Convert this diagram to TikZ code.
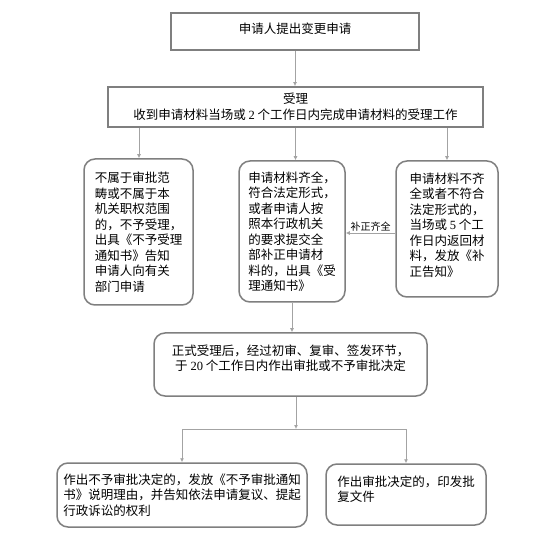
\documentclass[tikz,border=0pt]{standalone}
\usepackage{fontspec}
\setmainfont{Liberation Serif}
\newfontfamily\cjk{Noto Sans CJK SC}
\newfontfamily\numfont{Liberation Serif}
\usetikzlibrary{arrows.meta}
\definecolor{BoxGray}{HTML}{7F7F7F}
\definecolor{LineGray}{HTML}{A3A3A3}

\begin{document}
\begin{tikzpicture}[
  x=1pt, y=-1pt,
  every node/.style={font=\fontsize{12.5}{15.5}\selectfont\cjk},
  sqbox/.style={draw=BoxGray, line width=1.8pt, align=center, inner sep=2pt},
  rbox/.style={draw=BoxGray, line width=1.5pt, rounded corners=11pt, align=left, inner sep=2pt},
  arrow/.style={-{Latex[length=4pt,width=4pt]}, line width=0.9pt, draw=LineGray}
]
\fill[white] (0,0) rectangle (552,540);
\useasboundingbox (0,0) rectangle (552,540);

\node[sqbox, minimum width=248, minimum height=37, text depth=6pt] (apply) at (295,31.5) {申请人提出变更申请};
\node[sqbox, minimum width=375, minimum height=40] (accept) at (295.5,107)
  {受理\\收到申请材料当场或 {\numfont 2} 个工作日内完成申请材料的受理工作};

\node[rbox, minimum width=109, minimum height=146] (reject) at (138.5,232)
  {不属于审批范\\畴或不属于本\\机关职权范围\\的，不予受理，\\出具《不予受理\\通知书》告知\\申请人向有关\\部门申请};
\node[rbox, minimum width=106, minimum height=141] (complete) at (292,231.5)
  {申请材料齐全，\\符合法定形式，\\或者申请人按\\照本行政机关\\的要求提交全\\部补正申请材\\料的，出具《受\\理通知书》};
\node[rbox, minimum width=102, minimum height=136] (incomplete) at (447,229)
  {申请材料不齐\\全或者不符合\\法定形式的，\\当场或 {\numfont 5} 个工\\作日内返回材\\料，发放《补\\正告知》\\[-6pt]};

\node[rbox, align=center, minimum width=273, minimum height=63,
  font=\fontsize{12.5}{14.5}\selectfont\cjk] (review) at (290.5,364.5)
  {正式受理后，经过初审、复审、签发环节，\\于 {\numfont 20} 个工作日内作出审批或不予审批决定\\[-1pt]};

\node[rbox, minimum width=250, minimum height=64] (deny) at (182,495)
  {作出不予审批决定的，发放《不予审批通知\\书》说明理由，并告知依法申请复议、提起\\行政诉讼的权利};
\node[rbox, minimum width=160, minimum height=61] (grant) at (406,494.5)
  {作出审批决定的，印发批\\复文件\\[-4pt]};

\coordinate (split) at (296,429);

\draw[arrow] (apply.south) -- (accept.north -| apply.south);
\draw[arrow] (accept.south -| 139,0) -- (reject.north -| 139,0);
\draw[arrow] (accept.south) -- (complete.north -| accept.south);
\draw[arrow] (accept.south -| incomplete.north) -- (incomplete.north);
\draw[arrow] ([yshift=-4pt]incomplete.west) -- ([yshift=-4pt]incomplete.west -| complete.east)
  node[midway, above, inner sep=1.5pt, font=\fontsize{10}{12}\selectfont\cjk] {补正齐全};
\draw[arrow] (complete.south) -- (review.north -| complete.south);
\draw[arrow] (review.south -| split) -- (split);
\draw[arrow] (split) -| (deny.north);
\draw[arrow] (split) -| (grant.north);
\end{tikzpicture}
\end{document}
